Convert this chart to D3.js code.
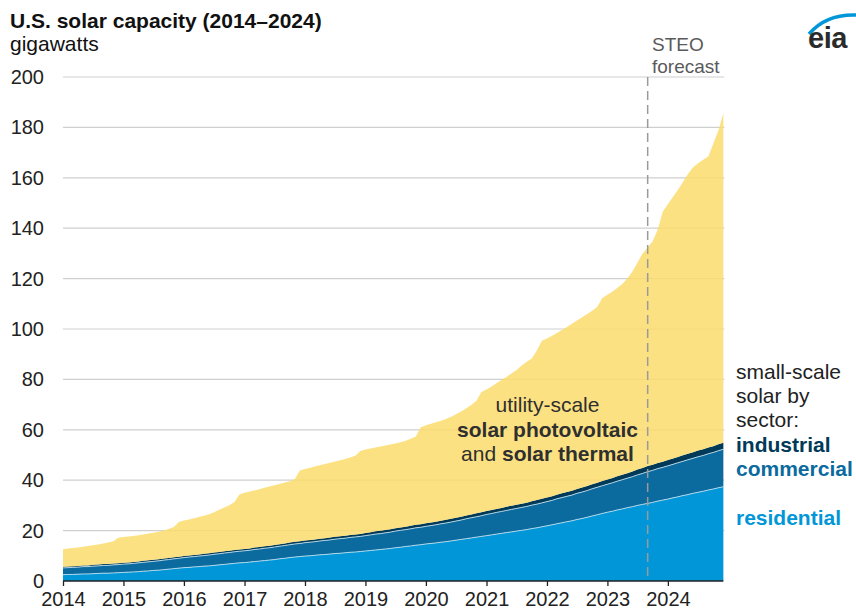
<!DOCTYPE html>
<html><head><meta charset="utf-8">
<script src="https://cdn.jsdelivr.net/npm/d3@7"></script>
<style>
body{margin:0;background:#fff;}
svg text{font-family:Arial,"Liberation Sans",Helvetica,sans-serif;}
</style></head>
<body><svg id="c" width="856" height="612"></svg>
<script>
// ---- data (monthly, Jan 2014 – Dec 2024), gigawatts ----
const startMonth = new Date(2014, 0, 1);
const endMonth = new Date(2025, 0, 1);
const yearTicks = [2014, 2015, 2016, 2017, 2018, 2019, 2020, 2021, 2022, 2023, 2024];
const yTicks = [0, 20, 40, 60, 80, 100, 120, 140, 160, 180, 200];
const forecastStart = new Date(2023, 8, 1);

const residential = [
 2.5,2.6,2.6,2.7,2.8,2.8,2.9,3.0,3.1,3.1,3.2,3.3,
 3.4,3.5,3.6,3.7,3.9,4.0,4.2,4.3,4.5,4.7,4.9,5.1,
 5.3,5.4,5.6,5.7,5.9,6.0,6.2,6.4,6.6,6.8,7.0,7.2,
 7.3,7.5,7.7,7.9,8.1,8.3,8.5,8.8,9.0,9.3,9.5,9.7,
 9.9,10.0,10.2,10.4,10.5,10.7,10.9,11.0,11.2,11.4,11.5,11.7,
 11.9,12.1,12.3,12.5,12.7,12.9,13.2,13.4,13.7,13.9,14.2,14.4,
 14.7,14.9,15.1,15.4,15.6,15.9,16.2,16.5,16.8,17.1,17.4,17.7,
 18.0,18.3,18.6,18.9,19.2,19.5,19.8,20.1,20.4,20.8,21.1,21.5,
 21.9,22.3,22.7,23.1,23.5,23.9,24.4,24.8,25.3,25.8,26.3,26.8,
 27.3,27.7,28.2,28.6,29.1,29.5,30.0,30.4,30.8,31.2,31.7,32.1,
 32.5,33.0,33.4,33.9,34.3,34.8,35.2,35.6,36.1,36.5,37.0,37.4];
const commercial = [
 2.7,2.7,2.8,2.8,2.9,2.9,3.0,3.0,3.1,3.1,3.2,3.2,
 3.3,3.3,3.4,3.5,3.5,3.6,3.6,3.7,3.8,3.8,3.9,3.9,
 4.0,4.1,4.1,4.2,4.2,4.3,4.4,4.4,4.5,4.5,4.6,4.6,
 4.7,4.7,4.8,4.8,4.9,4.9,5.0,5.0,5.1,5.1,5.2,5.2,
 5.3,5.4,5.4,5.5,5.6,5.6,5.7,5.8,5.8,5.9,6.0,6.0,
 6.1,6.2,6.3,6.3,6.4,6.5,6.6,6.7,6.7,6.8,6.9,6.9,
 7.0,7.1,7.2,7.3,7.4,7.5,7.6,7.7,7.9,8.0,8.1,8.2,
 8.4,8.5,8.6,8.7,8.8,8.9,9.0,9.1,9.2,9.3,9.4,9.5,
 9.6,9.7,9.9,10.0,10.1,10.2,10.4,10.5,10.6,10.8,10.9,11.0,
 11.1,11.3,11.4,11.6,11.7,11.9,12.1,12.3,12.6,12.7,12.9,13.0,
 13.2,13.3,13.5,13.6,13.8,13.9,14.1,14.2,14.4,14.5,14.7,14.9];
const industrial = [
 0.5,0.5,0.5,0.5,0.5,0.5,0.5,0.5,0.5,0.5,0.5,0.5,
 0.5,0.5,0.5,0.5,0.6,0.6,0.6,0.6,0.6,0.6,0.6,0.6,
 0.6,0.6,0.6,0.6,0.7,0.7,0.7,0.7,0.7,0.7,0.7,0.7,
 0.7,0.7,0.8,0.8,0.8,0.8,0.8,0.8,0.8,0.9,0.9,0.9,
 0.9,0.9,0.9,0.9,0.9,1.0,1.0,1.0,1.0,1.0,1.0,1.0,
 1.0,1.0,1.1,1.1,1.1,1.1,1.1,1.1,1.1,1.2,1.2,1.2,
 1.2,1.2,1.2,1.2,1.3,1.3,1.3,1.3,1.3,1.3,1.4,1.4,
 1.4,1.4,1.4,1.4,1.5,1.5,1.5,1.5,1.5,1.5,1.6,1.6,
 1.6,1.6,1.6,1.7,1.7,1.7,1.7,1.8,1.8,1.8,1.8,1.9,
 1.9,1.9,2.0,2.0,2.0,2.1,2.1,2.1,2.2,2.2,2.2,2.2,
 2.3,2.3,2.3,2.4,2.4,2.4,2.5,2.5,2.5,2.5,2.6,2.6];
const utility = [
 6.9,7.1,7.2,7.3,7.4,7.7,7.8,8.0,8.2,8.6,8.9,10.2,
 10.3,10.4,10.4,10.5,10.5,10.6,10.7,10.9,11.1,11.5,12.0,13.8,
 14.1,14.3,14.6,14.9,15.1,15.5,16.0,16.8,17.4,18.1,19.0,21.8,
 22.3,22.6,22.6,22.9,23.2,23.5,23.7,23.9,24.2,24.3,24.9,28.0,
 28.3,28.6,28.9,29.1,29.4,29.6,29.8,30.1,30.4,30.7,31.2,32.9,
 33.2,33.3,33.3,33.5,33.6,33.7,33.7,33.9,34.2,34.5,35.0,38.5,
 38.9,39.2,39.5,39.7,40.0,40.5,41.1,41.8,42.6,43.4,44.6,47.7,
 48.2,49.0,49.9,50.8,51.5,52.4,53.4,54.8,55.9,56.7,59.4,62.7,
 63.1,63.7,64.2,64.8,65.5,66.3,66.9,67.6,68.3,68.8,69.8,72.6,
 73.3,74.0,74.7,75.7,77.2,79.3,82.1,85.2,86.7,88.7,92.7,99.2,
 101.5,103.9,106.0,108.4,111.0,113.1,114.0,114.9,115.5,120.0,124.5,130.7];

const seriesKeys = ["residential", "commercial", "industrial", "utility"];
const seriesColors = {residential:"#0096d7", commercial:"#0b6a9e", industrial:"#003a58", utility:"#fbdc6c"};

// ---- build table ----
const months = d3.timeMonth.range(startMonth, endMonth);
const table = months.map((m, i) => ({date:m, residential:residential[i], commercial:commercial[i], industrial:industrial[i], utility:utility[i]}));

const svg = d3.select("#c");
const x = d3.scaleTime().domain([startMonth, endMonth]).range([63, 728.5]);
const y = d3.scaleLinear().domain([0, 200]).range([581, 77]);
const xLeft = 63, xRight = x(months[months.length-1]);

// gridlines
svg.append("g").selectAll("line").data(yTicks.filter(d => d > 0)).join("line")
  .attr("x1", xLeft).attr("x2", xRight + 1)
  .attr("y1", d => y(d)).attr("y2", d => y(d))
  .attr("stroke", "#cfcfcf").attr("stroke-width", 1.2);

// stacked areas
const stack = d3.stack().keys(seriesKeys);
const layers = stack(table);
const area = d3.area().x(d => x(d.data.date)).y0(d => y(d[0])).y1(d => y(d[1]));
svg.append("g").selectAll("path").data(layers).join("path")
  .attr("d", area)
  .attr("fill", d => seriesColors[d.key])
  .attr("fill-opacity", d => d.key === "utility" ? 0.85 : 1);

// light separators on top of residential and commercial
const topLine = d3.line().x(d => x(d.data.date)).y(d => y(d[1]));
svg.append("g").selectAll("path").data(layers.filter(l => l.key === "residential" || l.key === "commercial")).join("path")
  .attr("d", topLine).attr("fill", "none").attr("stroke", "#bfe0f0").attr("stroke-width", 0.9);

// forecast line
svg.append("line")
  .attr("x1", x(forecastStart)).attr("x2", x(forecastStart))
  .attr("y1", y(200)).attr("y2", y(0))
  .attr("stroke", "#9a9a9a").attr("stroke-width", 1.5).attr("stroke-dasharray", "9,5");

// x axis
const xAxis = d3.axisBottom(x)
  .tickValues(yearTicks.map(yr => new Date(yr, 0, 1)))
  .tickFormat(d3.timeFormat("%Y"))
  .tickSize(5).tickSizeOuter(0).tickPadding(6);
const gx = svg.append("g").attr("transform", `translate(0,${y(0)})`).call(xAxis);
gx.select(".domain").attr("d", `M${xLeft},0H${xRight}`).attr("stroke", "#222").attr("stroke-width", 1.4);
gx.selectAll(".tick line").attr("stroke", "#222").attr("stroke-width", 1.3);
gx.selectAll(".tick text").attr("font-size", 20).attr("fill", "#222")
  .attr("font-family", "Arial, 'Liberation Sans', sans-serif");

// y axis labels
const yAxis = d3.axisLeft(y).tickValues(yTicks).tickSize(0).tickPadding(19);
const gy = svg.append("g").attr("transform", `translate(${xLeft},0)`).call(yAxis);
gy.select(".domain").remove();
gy.selectAll(".tick text").attr("font-size", 20).attr("fill", "#222")
  .attr("font-family", "Arial, 'Liberation Sans', sans-serif");

// titles
svg.append("text").attr("x", 10).attr("y", 28).attr("font-size", 21).attr("font-weight", "bold").attr("fill", "#111")
  .text("U.S. solar capacity (2014–2024)");
svg.append("text").attr("x", 10).attr("y", 51).attr("font-size", 21).attr("fill", "#111").text("gigawatts");

// STEO label
svg.append("text").attr("x", 652).attr("y", 51).attr("font-size", 19).attr("fill", "#5a5a5a").text("STEO");
svg.append("text").attr("x", 652).attr("y", 73).attr("font-size", 19).attr("fill", "#5a5a5a").text("forecast");

// eia logo
svg.append("path").attr("d", "M809,34 Q826,14 856,15").attr("fill", "none").attr("stroke", "#0096d7").attr("stroke-width", 3.5);
svg.append("text").attr("x", 808).attr("y", 48).attr("font-size", 29).attr("font-weight", "bold").attr("fill", "#2b2b2b")
  .attr("letter-spacing", -0.5).text("eia");

// utility annotation
const ann = svg.append("g").attr("fill", "#2f2f2f").attr("font-size", 21).attr("text-anchor", "middle");
ann.append("text").attr("x", 547.5).attr("y", 412).text("utility-scale");
ann.append("text").attr("x", 547.5).attr("y", 436.5).attr("font-weight", "bold").text("solar photovoltaic");
const l3 = ann.append("text").attr("x", 547.5).attr("y", 460.5);
l3.append("tspan").text("and ");
l3.append("tspan").attr("font-weight", "bold").text("solar thermal");

// right legend
const lg = svg.append("g").attr("font-size", 21);
lg.append("text").attr("x", 736).attr("y", 379).attr("fill", "#222").text("small-scale");
lg.append("text").attr("x", 736).attr("y", 403).attr("fill", "#222").text("solar by");
lg.append("text").attr("x", 736).attr("y", 427).attr("fill", "#222").text("sector:");
lg.append("text").attr("x", 736).attr("y", 452).attr("fill", seriesColors.industrial).attr("font-weight", "bold").text("industrial");
lg.append("text").attr("x", 736).attr("y", 476).attr("fill", seriesColors.commercial).attr("font-weight", "bold").text("commercial");
lg.append("text").attr("x", 736).attr("y", 525).attr("fill", seriesColors.residential).attr("font-weight", "bold").text("residential");
</script></body></html>
